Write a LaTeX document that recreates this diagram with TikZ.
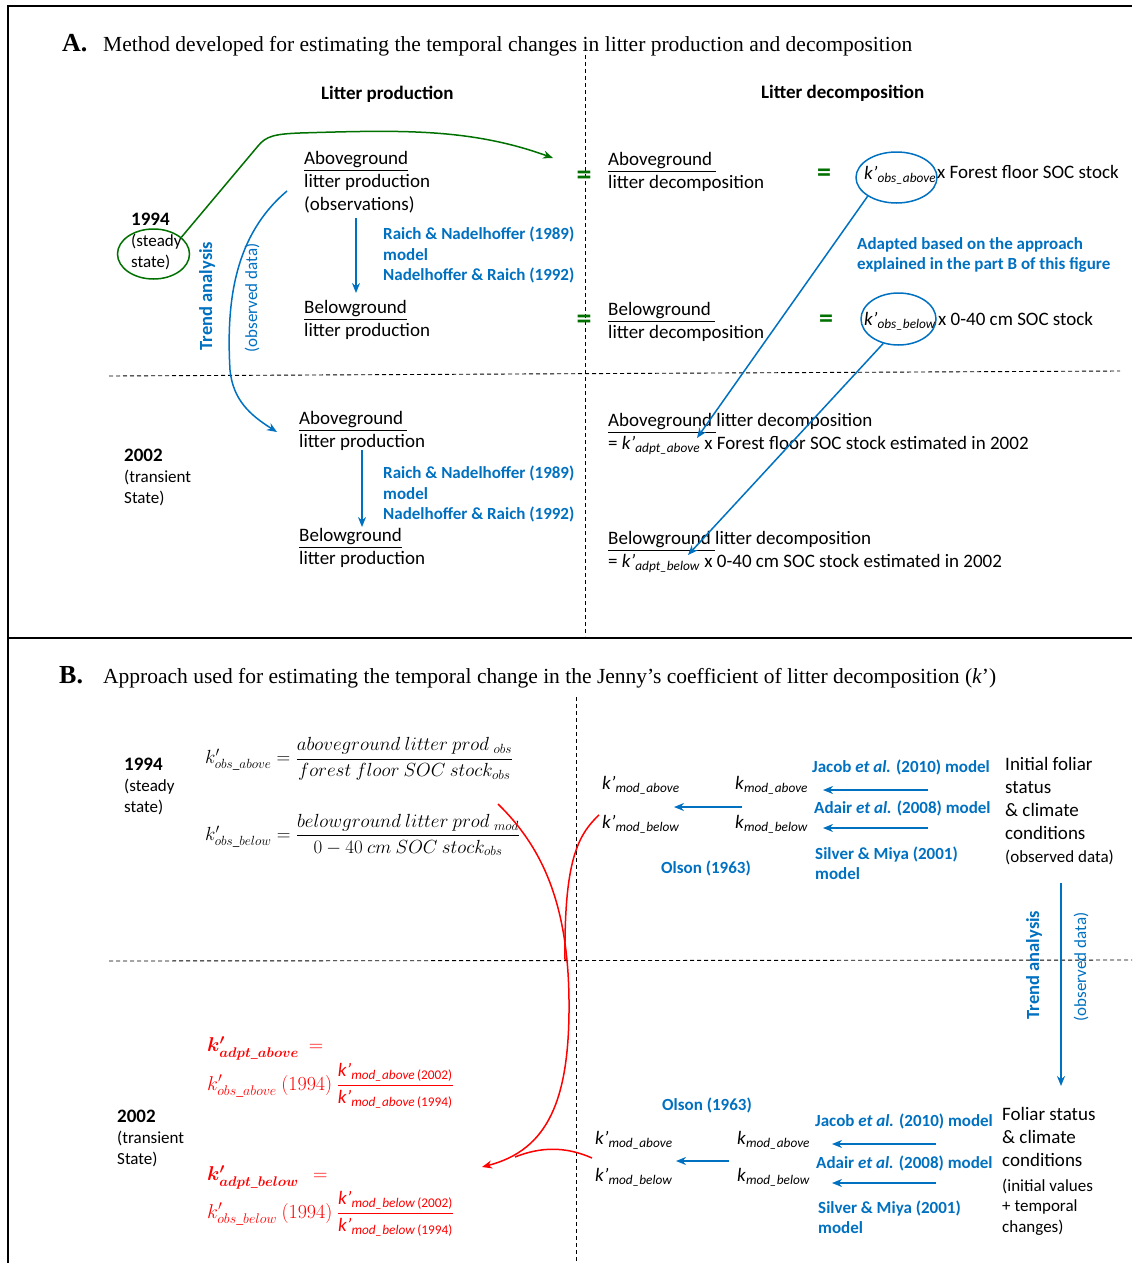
\RequirePackage{fix-cm}
\documentclass[tikz,border=0pt]{standalone}
\usepackage{amsmath}
\usepackage{bm}
\usepackage{fontspec}
\setmainfont{Carlito}
\newfontfamily\timesfont{Liberation Serif}
\usetikzlibrary{arrows.meta,shapes.geometric}
\definecolor{myblue}{RGB}{0,112,192}
\definecolor{mygreen}{RGB}{0,112,0}
\definecolor{myred}{RGB}{255,0,0}
\newcommand{\kp}[1]{\textit{k’}\textsubscript{\textit{#1}}}
\newcommand{\kn}[1]{\textit{k}\textsubscript{\textit{#1}}}
\newcommand{\kpy}[2]{\textit{k’}\textsubscript{\textit{#1}\,#2}}

\begin{document}
\begin{tikzpicture}[x=1pt, y=-1pt,
	txt/.style={anchor=west, inner sep=0pt, align=left, font=\fontsize{19}{23}\selectfont},
	year/.style={txt, font=\fontsize{17}{21}\selectfont},
	hdr/.style={txt, font=\fontsize{19}{23}\selectfont\bfseries},
	ref/.style={txt, text=myblue, font=\fontsize{17}{20.5}\selectfont\bfseries},
	note/.style={txt, font=\fontsize{17}{20.5}\selectfont},
	eqsign/.style={inner sep=0pt, text=mygreen, font=\fontsize{30}{30}\selectfont\bfseries},
	redeq/.style={txt, text=myred, font=\fontsize{20}{23}\selectfont},
	ring/.style={ellipse, line width=1.5pt, inner sep=0pt},
	flow/.style={myblue, line width=1.5pt, -{Stealth[length=10pt, width=8pt]}},
	back/.style={myred, line width=1.5pt, -{Stealth[length=10pt, width=8pt]}},
	sep/.style={black, line width=0.9pt, dash pattern=on 4pt off 3pt}]
	\useasboundingbox (0,0) rectangle (1132,1263);

	% Frame
	\draw [line width=2pt] (8,1263) -- (8,6) -- (1132,6);
	\draw [line width=2pt] (8,638) -- (1132,638);

	% Part A
	\node [anchor=base west, inner sep=0pt, font=\timesfont\fontsize{26}{26}\selectfont\bfseries] (labA) at (62,52) {A.};
	\node [anchor=base west, inner sep=0pt, font=\timesfont\fontsize{21.5}{21.5}\selectfont] (titA) at (103,52) {Method developed for estimating the temporal changes in litter production and decomposition};
	\draw [sep] (585,55) -- (585,636);
	\draw [sep] (109,376) -- (1120,371);

	\node [hdr] (hProd) at (321,94) {Litter production};
	\node [hdr] (hDec) at (761,93) {Litter decomposition};

	% 1994
	\node [year] (y94) at (131,241) {\fontsize{19}{21}\selectfont\textbf{1994}\\(steady\\state)};
	\node [ring, draw=mygreen, minimum width=72pt, minimum height=50pt] (e94) at (153.5,254) {};
	\node [txt] (prodAb94) at (304,182) {\underline{Aboveground}\\litter production\\(observations)};
	\node [txt] (prodBe94) at (304,320) {\underline{Belowground}\\litter production};
	\node [ref] (raich94) at (383,255) {Raich \& Nadelhoffer (1989)\\model\\Nadelhoffer \& Raich (1992)};
	\draw [flow] (356,218) -- (356,293);

	\node [eqsign] (eqAb) at (584,178) {=};
	\node [eqsign] (eqBe) at (584,322) {=};
	\node [txt] (decAb94) at (608,172) {\underline{Aboveground\ }\\litter decomposition};
	\node [txt] (decBe94) at (608,322) {\underline{Belowground\ }\\litter decomposition};
	\node [eqsign, font=\fontsize{28}{28}\selectfont\bfseries] (eqkA) at (824,175) {=};
	\node [eqsign, font=\fontsize{28}{28}\selectfont\bfseries] (eqkB) at (826,321) {=};
	\node [ring, draw=myblue, minimum width=81pt, minimum height=51pt] (kobsA) at (896.5,177.5) {};
	\node [ring, draw=myblue, minimum width=75pt, minimum height=52pt] (kobsB) at (898.5,319) {};
	\node [txt] (kA) at (864,175) {\kp{obs\_above}};
	\node [txt] (kB) at (864,321) {\kp{obs\_below}};
	\node [txt] (stockA) at (937,172) {x Forest floor SOC stock};
	\node [txt] (stockB) at (938,319) {x 0-40 cm SOC stock};
	\node [ref] (adapt) at (857,255) {Adapted based on the approach\\explained in the part B of this figure};

	% Green link
	\coordinate (eqTip) at (553,158);
	\draw [mygreen, line width=1.5pt, -{Stealth[length=10pt, width=8pt]}] (e94.31) -- (258,146) .. controls (266,136) and (275,134) .. (300,133) .. controls (400,130) and (470,128) .. (eqTip);

	% Trend analysis
	\coordinate (trendTip) at (277,432);
	\draw [flow] (287,191) .. controls (235,235) and (226,300) .. (230,370) .. controls (233,400) and (250,415) .. (trendTip);
	\node [ref, rotate=90, anchor=center, font=\fontsize{18.5}{22}\selectfont\bfseries] (trendA) at (207,296) {Trend analysis};
	\node [note, rotate=90, anchor=center, text=myblue] (obsA) at (252,298) {(observed data)};

	% 2002
	\node [year] (y02) at (124,477) {\fontsize{19}{21}\selectfont\textbf{2002}\\(transient\\State)};
	\node [txt] (prodAb02) at (299,431) {\underline{Aboveground\ }\\litter production};
	\node [txt] (prodBe02) at (299,548) {\underline{Belowground}\\litter production};
	\node [ref] (raich02) at (383,494) {Raich \& Nadelhoffer (1989)\\model\\Nadelhoffer \& Raich (1992)};
	\draw [flow] (362,450) -- (362,527);
	\node [txt] (decAb02) at (608,434) {\underline{Aboveground\ }litter decomposition\\= \kp{adpt\_above} x Forest floor SOC stock estimated in 2002};
	\node [txt] (decBe02) at (608,552) {\underline{Belowground\ }litter decomposition\\= \kp{adpt\_below} x 0-40 cm SOC stock estimated in 2002};
	\coordinate (adptA) at (697,438);
	\coordinate (adptB) at (688,555);
	\draw [flow] (kobsA.213) -- (adptA);
	\draw [flow] (kobsB.238) -- (adptB);

	% Part B
	\node [anchor=base west, inner sep=0pt, font=\timesfont\fontsize{26}{26}\selectfont\bfseries] (labB) at (59,683) {B.};
	\node [anchor=base west, inner sep=0pt, font=\timesfont\fontsize{21.5}{21.5}\selectfont] (titB) at (103,683) {Approach used for estimating the temporal change in the Jenny’s coefficient of litter decomposition (\textit{k}’)};
	\draw [sep] (576,697) -- (576,1263);
	\draw [sep] (109,961) -- (1132,960);

	\node [year] (y94b) at (124,786) {\fontsize{19}{21}\selectfont\textbf{1994}\\(steady\\state)};
	\node [txt, font=\fontsize{19}{22}\selectfont] (kobsAb) at (205,759) {$k'_{obs\_above} = \dfrac{aboveground\ litter\ prod_{\ obs}}{forest\ floor\ SOC\ stock_{obs}}$};
	\node [txt, font=\fontsize{19}{22}\selectfont] (kobsBe) at (205,835) {$k'_{obs\_below} = \dfrac{belowground\ litter\ prod_{\ mod}}{0-40\ cm\ SOC\ stock_{obs}}$};

	\node [txt] (kmA1) at (602,785) {\kp{mod\_above}};
	\node [txt] (kmB1) at (602,824) {\kp{mod\_below}};
	\node [txt] (knA1) at (735,785) {\kn{mod\_above}};
	\node [txt] (knB1) at (735,824) {\kn{mod\_below}};
	\node [ref] (jacob1) at (812,767) {Jacob \textit{et al.} (2010) model};
	\node [ref] (adair1) at (814,808) {Adair \textit{et al.} (2008) model};
	\node [ref] (silver1) at (815,863) {Silver \& Miya (2001)\\model};
	\node [ref] (olson1) at (661,868) {Olson (1963)};
	\node [txt] (clim94) at (1005,798) {Initial foliar\\status\\\& climate\\conditions};
	\node [note] (clobs) at (1005,857) {(observed data)};
	\draw [flow] (928,790) -- (823,790);
	\draw [flow] (928,828) -- (823,828);
	\draw [flow] (742,807) -- (674,807);

	% Trend analysis
	\coordinate (trendTop) at (1061,883);
	\coordinate (trendBot) at (1061,1086);
	\draw [flow] (trendTop) -- (trendBot);
	\node [ref, rotate=90, anchor=center, font=\fontsize{18.5}{22}\selectfont\bfseries] (trendB) at (1034,965) {Trend analysis};
	\node [note, rotate=90, anchor=center, text=myblue] (obsB) at (1081,967) {(observed data)};

	\node [year] (y02b) at (117,1138) {\fontsize{19}{21}\selectfont\textbf{2002}\\(transient\\State)};
	\node [redeq] (adptAb) at (207,1048) {$\bm{k'_{adpt\_above}}\ =$};
	\node [redeq] (adptAbf) at (207,1086) {$k'_{obs\_above}\ (1994)\ \dfrac{\text{\fontsize{19}{23}\selectfont\kpy{mod\_above}{(2002)}}}{\text{\fontsize{19}{23}\selectfont\kpy{mod\_above}{(1994)}}}$};
	\node [redeq] (adptBe) at (207,1177) {$\bm{k'_{adpt\_below}}\ \ =$};
	\node [redeq] (adptBef) at (207,1214) {$k'_{obs\_below}\ (1994)\ \dfrac{\text{\fontsize{19}{23}\selectfont\kpy{mod\_below}{(2002)}}}{\text{\fontsize{19}{23}\selectfont\kpy{mod\_below}{(1994)}}}$};

	\node [ref] (olson2) at (662,1105) {Olson (1963)};
	\node [txt] (kmA2) at (595,1140) {\kp{mod\_above}};
	\node [txt] (kmB2) at (595,1177) {\kp{mod\_below}};
	\node [txt] (knA2) at (737,1140) {\kn{mod\_above}};
	\node [txt] (knB2) at (737,1177) {\kn{mod\_below}};
	\node [ref] (jacob2) at (815,1121) {Jacob \textit{et al.} (2010) model};
	\node [ref] (adair2) at (816,1163) {Adair \textit{et al.} (2008) model};
	\node [ref] (silver2) at (818,1217) {Silver \& Miya (2001)\\model};
	\node [txt] (clim02) at (1002,1137) {Foliar status\\\& climate\\conditions};
	\node [note] (clinit) at (1002,1207) {(initial values\\+ temporal\\changes)};
	\draw [flow] (936,1144) -- (832,1144);
	\draw [flow] (936,1183) -- (832,1183);
	\draw [flow] (729,1161) -- (676,1161);

	% Red links
	\coordinate (rStart) at (498,804);
	\coordinate (rTip) at (482,1167);
	\coordinate (rJoin) at (515,1157);
	\draw [back] (rStart) .. controls (540,845) and (568,900) .. (569,1000) .. controls (570,1100) and (548,1150) .. (rTip);
	\draw [myred, line width=1.5pt] ([xshift=-3pt]kmB1.north west) .. controls (578,835) and (564,860) .. (565,960);
	\draw [myred, line width=1.5pt] (592,1158) .. controls (565,1146) and (540,1147) .. (rJoin);

\end{tikzpicture}
\end{document}
